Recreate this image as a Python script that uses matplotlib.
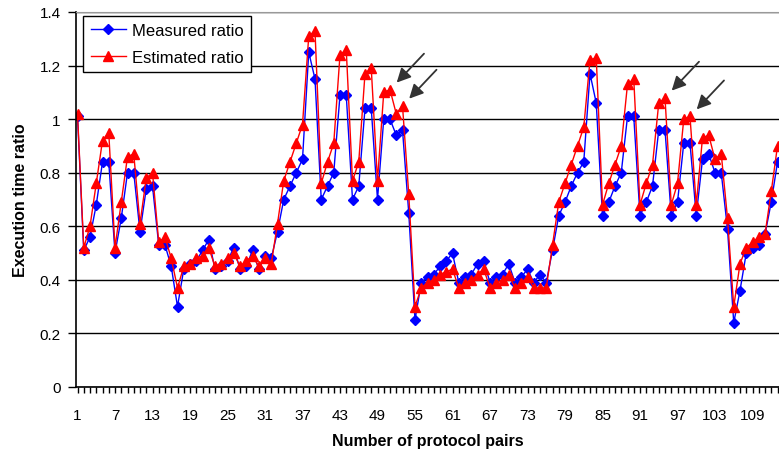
import numpy as np
import matplotlib.pyplot as plt
from matplotlib.ticker import MultipleLocator, FixedLocator

# values, protocol pair 1..113
measured = [
    1.01, 0.51, 0.56, 0.68, 0.84, 0.84, 0.50, 0.63, 0.80, 0.80,
    0.58, 0.74, 0.75, 0.53, 0.53, 0.45, 0.30, 0.44, 0.46, 0.47,
    0.51, 0.55, 0.44, 0.45, 0.47, 0.52, 0.44, 0.45, 0.51, 0.44,
    0.49, 0.48, 0.58, 0.70, 0.75, 0.80, 0.85, 1.25, 1.15, 0.70,
    0.75, 0.80, 1.09, 1.09, 0.70, 0.75, 1.04, 1.04, 0.70, 1.00,
    1.00, 0.94, 0.96, 0.65, 0.25, 0.39, 0.41, 0.42, 0.45, 0.47,
    0.50, 0.39, 0.41, 0.42, 0.46, 0.47, 0.39, 0.41, 0.42, 0.46,
    0.39, 0.41, 0.44, 0.39, 0.42, 0.39, 0.51, 0.64, 0.69, 0.75,
    0.80, 0.84, 1.17, 1.06, 0.64, 0.69, 0.75, 0.80, 1.01, 1.01,
    0.64, 0.69, 0.75, 0.96, 0.96, 0.64, 0.69, 0.91, 0.91, 0.64,
    0.85, 0.87, 0.80, 0.80, 0.59, 0.24, 0.36, 0.50, 0.52, 0.53,
    0.57, 0.69, 0.84,
]
estimated = [
    1.02, 0.52, 0.60, 0.76, 0.92, 0.95, 0.52, 0.69, 0.86, 0.87,
    0.61, 0.78, 0.80, 0.54, 0.56, 0.48, 0.37, 0.45, 0.46, 0.48,
    0.49, 0.52, 0.45, 0.46, 0.48, 0.50, 0.45, 0.47, 0.49, 0.45,
    0.48, 0.46, 0.61, 0.77, 0.84, 0.91, 0.98, 1.31, 1.33, 0.76,
    0.84, 0.91, 1.24, 1.26, 0.77, 0.84, 1.17, 1.19, 0.77, 1.10,
    1.11, 1.02, 1.05, 0.72, 0.30, 0.37, 0.39, 0.40, 0.42, 0.43,
    0.44, 0.37, 0.39, 0.40, 0.42, 0.44, 0.37, 0.39, 0.40, 0.42,
    0.37, 0.39, 0.41, 0.37, 0.37, 0.37, 0.53, 0.69, 0.76, 0.83,
    0.90, 0.97, 1.22, 1.23, 0.68, 0.76, 0.83, 0.90, 1.13, 1.15,
    0.68, 0.76, 0.83, 1.06, 1.08, 0.68, 0.76, 1.00, 1.01, 0.68,
    0.93, 0.94, 0.85, 0.87, 0.63, 0.30, 0.46, 0.52, 0.54, 0.56,
    0.57, 0.73, 0.90,
]
pairs = np.arange(1, len(measured) + 1)
y_ticks = [0, 0.2, 0.4, 0.6, 0.8, 1.0, 1.2, 1.4]
y_labels = ['0', '0.2', '0.4', '0.6', '0.8', '1', '1.2', '1.4']
arrow_pairs = [51, 53, 95, 99]   # pairs pointed at by the arrows

plt.rcParams['font.family'] = ['Liberation Sans', 'DejaVu Sans']

fig = plt.figure(figsize=(7.79, 4.56), dpi=100)
ax = fig.add_axes([76 / 779, 68 / 456, 703 / 779, 375 / 456])

ax.plot(pairs, measured, color='#0000FF', lw=1, marker='D', ms=5,
        mec='#0000FF', mfc='#0000FF', label='Measured ratio')
ax.plot(pairs, estimated, color='#FF0000', lw=1, marker='^', ms=6.5,
        mec='#FF0000', mfc='#FF0000', label='Estimated ratio')

for p in arrow_pairs:
    ax.annotate('', xy=(p, estimated[p - 1]), xytext=(34, 36),
                textcoords='offset pixels',
                arrowprops=dict(arrowstyle='-|>,head_length=0.7,head_width=0.35',
                                color='#333333', lw=1.3, shrinkA=0, shrinkB=7,
                                mutation_scale=12))

# axes limits / grid
ax.set_xlim(0.76, 113.24)
ax.set_ylim(0, 1.4)
ax.set_yticks(y_ticks, y_labels)
ax.xaxis.set_major_locator(FixedLocator(np.arange(1, 114, 6)))
ax.xaxis.set_minor_locator(MultipleLocator(1))
ax.grid(True, axis='y', color='black', lw=1)
ax.set_axisbelow(True)

ax.spines['right'].set_visible(False)
ax.spines['top'].set_color('#999999')
ax.spines['left'].set_linewidth(1.2)
ax.spines['bottom'].set_linewidth(1.2)

ax.tick_params(axis='y', direction='out', length=6, width=1, pad=5, labelsize=11)
ax.tick_params(axis='x', which='both', direction='out', length=4, width=1,
               pad=11, labelsize=11)

ax.set_xlabel('Number of protocol pairs', fontsize=11.5, fontweight='bold',
              labelpad=8)
ax.set_ylabel('Execution time ratio', fontsize=11.5, fontweight='bold',
              labelpad=8)

leg = ax.legend(loc='upper left', bbox_to_anchor=(0.01, 0.99), borderaxespad=0,
                fontsize=12, fancybox=False, edgecolor='black', framealpha=1,
                handlelength=2.1, handletextpad=0.4, borderpad=0.45,
                labelspacing=0.7)
leg.get_frame().set_linewidth(1)

fig.savefig('out.png', dpi=100)
